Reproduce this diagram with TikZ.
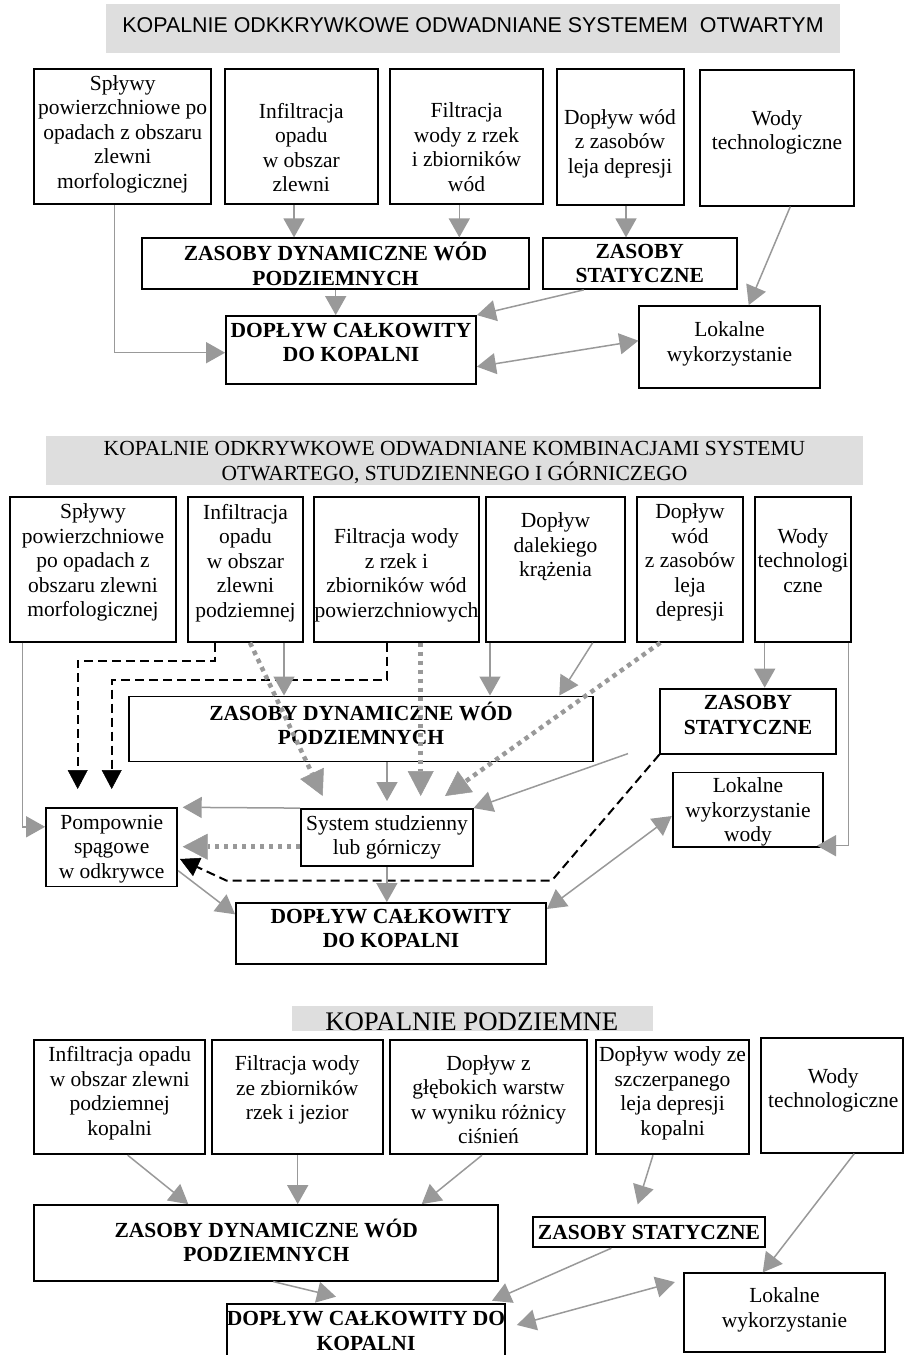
\documentclass[tikz,border=0pt]{standalone}
\usepackage{fontspec}
\setmainfont{Liberation Serif}
\newfontfamily\titlesans{Liberation Sans}
\usetikzlibrary{arrows.meta,fit,calc}
\definecolor{arrgray}{HTML}{999999}
\definecolor{titlegray}{HTML}{DEDEDE}
\tikzset{
 boxst/.style={draw=black,line width=1.8pt,inner sep=0pt},
 titlebg/.style={fill=titlegray,draw=none,inner sep=0pt},
 txt/.style={font=\fontsize{21.5}{24.5}\selectfont,align=center,inner sep=0pt,yshift=-3pt,execute at begin node=\strut,execute at end node=\strut},
 btxt/.style={txt,font=\fontsize{21.5}{24.5}\selectfont\bfseries},
 garr/.style={draw=arrgray,line width=1.5pt,-{Triangle[length=19pt,width=21pt]}},
 gdarr/.style={draw=arrgray,line width=1.5pt,{Triangle[length=19pt,width=21pt]}-{Triangle[length=19pt,width=21pt]}},
 dotarr/.style={draw=arrgray,line width=4.5pt,dash pattern=on 4.5pt off 4.5pt,-{Triangle[length=25pt,width=26pt,line width=0.5pt]}},
 bdash/.style={draw=black,line width=2pt,dash pattern=on 9pt off 5pt,-{Triangle[length=19pt,width=20pt,line width=0.5pt]}},
}
\begin{document}
\begin{tikzpicture}[x=1pt,y=-1pt]
\useasboundingbox (0,0) rectangle (904,1355);

% ===================== SECTION 1 =====================
\node[titlebg,fit={(106,4) (840,52.7)}] (t1) {};
\node[font=\titlesans\fontsize{21.4}{24}\selectfont,inner sep=0pt] (t1t) at (473,25.5) {KOPALNIE ODKKRYWKOWE ODWADNIANE SYSTEMEM\ \ OTWARTYM};

\node[boxst,fit={(34.3,69.3) (211,204.3)}] (a1) {};
\node[txt] (a1t) at (122.7,132.5) {Spływy\\powierzchniowe po\\opadach z obszaru\\zlewni\\morfologicznej};
\node[boxst,fit={(225,69.3) (377.7,204.3)}] (a2) {};
\node[txt] (a2t) at (301.3,148) {Infiltracja\\opadu\\w obszar\\zlewni};
\node[boxst,fit={(390,69.3) (543,204.3)}] (a3) {};
\node[txt] (a3t) at (466.5,147.7) {Filtracja\\wody z rzek\\i zbiorników\\wód};
\node[boxst,fit={(556.7,69.3) (683.7,204.7)}] (a4) {};
\node[txt] (a4t) at (620,142) {Dopływ wód\\z zasobów\\leja depresji};
\node[boxst,fit={(700.3,70) (853.7,205.7)}] (a5) {};
\node[txt] (a5t) at (777,130.8) {Wody\\technologiczne};

\node[boxst,fit={(141.7,238.3) (529.3,289)}] (d1) {};
\node[btxt] (d1t) at (335.5,264.5) {ZASOBY DYNAMICZNE WÓD\\PODZIEMNYCH};
\node[boxst,fit={(542.7,238.3) (737,289)}] (s1) {};
\node[btxt] (s1t) at (639.8,264.2) {ZASOBY\\STATYCZNE};
\node[boxst,fit={(226,316) (476,384.3)}] (c1) {};
\node[btxt] (c1t) at (351,343) {DOPŁYW CAŁKOWITY\\DO KOPALNI};
\node[boxst,fit={(639.3,306) (819.7,388.3)}] (l1) {};
\node[txt] (l1t) at (729.5,342.2) {Lokalne\\wykorzystanie};

\draw[garr] (a1.south -| 114.3,0) |- (c1.west |- 0,352.7);
\draw[garr] (a2.south -| 294,0) -- (d1.north -| 294,0);
\draw[garr] (a3.south -| 459.3,0) -- (d1.north -| 459.3,0);
\draw[garr] (a4.south -| 626,0) -- (s1.north -| 626,0);
\draw[garr] (d1.south -| 335.7,0) -- (c1.north -| 335.7,0);
\draw[garr] (s1.south -| 583.7,0) -- (c1.north east);
\draw[garr] (a5.south -| 790.3,0) -- (l1.north -| 748.7,0);
\draw[gdarr] (c1.east |- 0,366.7) -- (l1.west |- 0,340.7);

% ===================== SECTION 2 =====================
\node[titlebg,fit={(46,435.7) (863,484.6)}] (t2) {};
\node[txt] (t2t) at (454.5,461.4) {KOPALNIE ODKRYWKOWE ODWADNIANE KOMBINACJAMI SYSTEMU\\OTWARTEGO, STUDZIENNEGO I GÓRNICZEGO};

\node[boxst,fit={(10,497.1) (176,641.8)}] (b1) {};
\node[txt] (b1t) at (93,561.2) {Spływy\\powierzchniowe\\po opadach z\\obszaru zlewni\\morfologicznej};
\node[boxst,fit={(188,497.1) (303,641.8)}] (b2) {};
\node[txt] (b2t) at (245.5,561.2) {Infiltracja\\opadu\\w obszar\\zlewni\\podziemnej};
\node[boxst,fit={(314,497.1) (479,641.8)}] (b3) {};
\node[txt] (b3t) at (396.5,573.7) {Filtracja wody\\z rzek i\\zbiorników wód\\powierzchniowych};
\node[boxst,fit={(486,497.1) (625,641.8)}] (b4) {};
\node[txt] (b4t) at (555.5,545.5) {Dopływ\\dalekiego\\krążenia};
\node[boxst,fit={(637,497.1) (743,641.8)}] (b5) {};
\node[txt] (b5t) at (690,561.2) {Dopływ\\wód\\z zasobów\\leja\\depresji};
\node[boxst,fit={(755,497.1) (851,641.8)}] (b6) {};
\node[txt] (b6t) at (803,561) {Wody\\technologi\\czne};

\node[boxst,fit={(129,696.4) (593,761.4)}] (d2) {};
\node[btxt] (d2t) at (361,723.8) {ZASOBY DYNAMICZNE WÓD\\PODZIEMNYCH};
\node[boxst,fit={(660.3,688.6) (836,753.6)}] (s2) {};
\node[btxt] (s2t) at (748,715.4) {ZASOBY\\STATYCZNE};
\node[boxst,fit={(672.7,772.5) (823,847.1)}] (l2) {};
\node[txt] (l2t) at (748,810.7) {Lokalne\\wykorzystanie\\wody};
\node[boxst,fit={(301,809) (472.7,866)}] (sys) {};
\node[txt] (syst) at (387,835.5) {System studzienny\\lub górniczy};
\node[boxst,fit={(46,808.2) (177.3,886.4)}] (p2) {};
\node[txt] (p2t) at (111.7,847.2) {Pompownie\\spągowe\\w odkrywce};
\node[boxst,fit={(236,903) (546,964)}] (c2) {};
\node[btxt] (c2t) at (391,929.2) {DOPŁYW CAŁKOWITY\\DO KOPALNI};

\coordinate (k1) at (77.7,789);
\coordinate (k2) at (111.7,789);
\coordinate (k3) at (322.7,796);
\coordinate (k4) at (420.7,796);
\coordinate (k5) at (387,801);
\coordinate (k6) at (445,796);
\coordinate (k7) at (628,753.6);
\coordinate (k8) at (180,859);
\coordinate (k9) at (817,845.7);

\draw[garr] (b1.south -| 22.7,0) |- (p2.west |- 0,826.8);
\draw[bdash] (b2.south -| 215,0) -- ++(0,17.8) -| (k1);
\draw[bdash] (b3.south -| 386.7,0) -- ++(0,36.8) -| (k2);
\draw[garr] (b2.south -| 284,0) -- (d2.north -| 284,0);
\draw[garr] (b4.south -| 490,0) -- (d2.north -| 490,0);
\draw[garr] (b4.south -| 592.7,0) -- (d2.north -| 559.3,0);
\draw[dotarr] (b2.south -| 250,0) -- (k3);
\draw[dotarr] (b3.south -| 420.7,0) -- (k4);
\draw[garr] (d2.south -| 387,0) -- (k5);
\draw[dotarr] (b5.south -| 660.3,0) -- (k6);
\draw[garr] (k7) -- (sys.north east);
\draw[garr] (sys.north west) -- ($(p2.north east)+(4.5,0)$);
\draw[dotarr] (sys.west |- 0,846.7) -- ($(p2.east |- 0,846.7)+(4.5,0)$);
\draw[bdash] (s2.south west) -- (551.7,880.7) -- (226.7,880.7) -- (k8);
\draw[garr] (p2.east |- 0,870.7) -- (c2.west |- 0,914.3);
\draw[garr] (sys.south) -- (sys.south |- c2.north);
\draw[gdarr] (c2.east |- 0,909) -- (l2.west |- 0,816);
\draw[garr] (b6.south -| 764.7,0) -- (s2.north -| 764.7,0);
\draw[garr] (b6.south -| 848.7,0) |- (k9);

% ===================== SECTION 3 =====================
\node[titlebg,fit={(292.3,1006) (653,1030.7)}] (t3) {};
\node[font=\fontsize{26.8}{30}\selectfont,inner sep=0pt,anchor=base] (t3t) at (471.8,1030.7) {KOPALNIE PODZIEMNE};

\node[boxst,fit={(34.3,1040) (205,1154.3)}] (e1) {};
\node[txt] (e1t) at (119.7,1091.7) {Infiltracja opadu\\w obszar zlewni\\podziemnej\\kopalni};
\node[boxst,fit={(212,1040) (382.7,1154.3)}] (e2) {};
\node[txt] (e2t) at (297.3,1088.3) {Filtracja wody\\ze zbiorników\\rzek i jezior};
\node[boxst,fit={(390,1040) (587,1154.3)}] (e3) {};
\node[txt] (e3t) at (488.5,1100) {Dopływ z\\głębokich warstw\\w wyniku różnicy\\ciśnień};
\node[boxst,fit={(596.3,1040) (748.7,1154.3)}] (e4) {};
\node[txt] (e4t) at (672.5,1091.7) {Dopływ wody ze\\szczerpanego\\leja depresji\\kopalni};
\node[boxst,fit={(761,1038.3) (902.8,1152.7)}] (e5) {};
\node[txt] (e5t) at (833.3,1088.7) {Wody\\technologiczne};

\node[boxst,fit={(34.3,1205) (498.3,1280.7)}] (d3) {};
\node[btxt] (d3t) at (266.3,1240.8) {ZASOBY DYNAMICZNE WÓD\\PODZIEMNYCH};
\node[boxst,fit={(532.7,1217.3) (765.3,1247.3)}] (s3) {};
\node[btxt] (s3t) at (649,1231.7) {ZASOBY STATYCZNE};
\node[boxst,fit={(226.7,1304.3) (505,1358)}] (c3) {};
\node[btxt] (c3t) at (366,1331.3) {DOPŁYW CAŁKOWITY DO\\KOPALNI};
\node[boxst,fit={(683.7,1273.3) (885.3,1351.7)}] (l3) {};
\node[txt] (l3t) at (784.5,1308.3) {Lokalne\\wykorzystanie};

\coordinate (k10) at (637.7,1204.3);
\coordinate (k11) at (336,1296.7);
\coordinate (k12) at (492,1300.7);

\draw[garr] (e1.south -| 127.7,0) -- (d3.north -| 188.3,0);
\draw[garr] (e2.south -| 297.7,0) -- (d3.north -| 297.7,0);
\draw[garr] (e3.south -| 482,0) -- (d3.north -| 421.7,0);
\draw[garr] (e4.south -| 653,0) -- (k10);
\draw[garr] (e5.south -| 854.3,0) -- (l3.north -| 762.7,0);
\draw[garr] (d3.south -| 273.3,0) -- (k11);
\draw[garr] (s3.south -| 611.3,0) -- (k12);
\draw[gdarr] ($(c3.east |- 0,1325)+(11,0)$) -- ($(l3.west |- 0,1282)+(-8,0)$);

\end{tikzpicture}
\end{document}
